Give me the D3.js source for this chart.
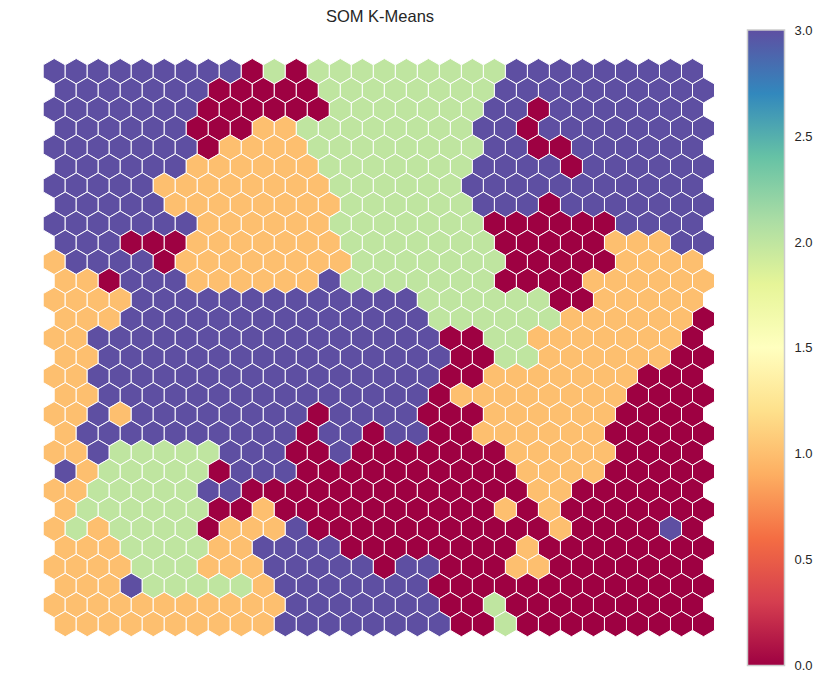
<!DOCTYPE html>
<html>
<head>
<meta charset="utf-8">
<script src="https://cdn.jsdelivr.net/npm/d3@7"></script>
<style>
  html, body { margin: 0; padding: 0; background: #fff; }
  svg { display: block; font-family: "Liberation Sans", Arial, sans-serif; }
</style>
</head>
<body>
<svg id="chart" width="824" height="683"></svg>
<script>
// SOM grid: 30 x 30 hexagonal map, each digit = K-Means cluster id of one node (row by row, top to bottom)
const clusterRows = [
  "333333333020222222222333333333",
  "333333300000222222223333333333",
  "333333300000022222223303333333",
  "333333000112222222233033333333",
  "333333301111222222223300333333",
  "333333111111222222233330333333",
  "333331111111122222233333333333",
  "333331111111122222233303333333",
  "333333311111122222220000003333",
  "333000111111122222220000011133",
  "133330111111112222222000001111",
  "110333111111322222220000111111",
  "111133333333333332222220011111",
  "111333333333333332222221111110",
  "113333333333333333002211111110",
  "113333333333333333002211111100",
  "113333333333333333001111111000",
  "113333333333333330111111110000",
  "113133333333033330001111110000",
  "133333333330330330011111100000",
  "113222223330030000000111110000",
  "312222203330000000000111100000",
  "112222233000000000000011000000",
  "122222200100000000001010000000",
  "121222201113000000000001000030",
  "111222211333300000000100000000",
  "111122211133333033000110000000",
  "111322222133333330000000000000",
  "111111111113333333002000000000",
  "111111111133333333002000000000"
];
const colorbarTicks = [0.0, 0.5, 1.0, 1.5, 2.0, 2.5, 3.0];
const spectralStops = ["#9e0142","#d53e4f","#f46d43","#fdae61","#fee08b","#ffffbf","#e6f598","#abdda4","#66c2a5","#3288bd","#5e4fa2"];
const titleText = "SOM K-Means";

const nodes = [];
clusterRows.forEach((row, r) => {
  row.split("").forEach((ch, c) => nodes.push({ row: r, col: c, value: +ch }));
});

const nRows = clusterRows.length, nCols = clusterRows[0].length;
const svg = d3.select("#chart");

const x = d3.scaleLinear().domain([0, nCols - 1]).range([54.2, 692.5]);
const colW = x(1) - x(0);
const y = d3.scaleLinear().domain([0, nRows - 1]).range([71.2, 71.2 + (nRows - 1) * colW * Math.sqrt(3) / 2]);
const radius = colW / Math.sqrt(3);

const color = d3.scaleLinear()
  .domain(d3.range(spectralStops.length).map(i => 3 * i / (spectralStops.length - 1)))
  .range(spectralStops)
  .interpolate(d3.interpolateRgb);

const hexPath = (cx, cy) => {
  const pts = d3.range(6).map(i => {
    const a = Math.PI / 3 * i + Math.PI / 6;
    return [cx + radius * Math.cos(a), cy + radius * Math.sin(a)];
  });
  return "M" + pts.map(p => p.join(",")).join("L") + "Z";
};

svg.append("g").selectAll("path")
  .data(nodes)
  .join("path")
  .attr("d", d => hexPath(x(d.col + (d.row % 2 ? 0.5 : 0)), y(d.row)))
  .attr("fill", d => color(d.value))
  .attr("stroke", "#ffffff")
  .attr("stroke-width", 1);

// title
svg.append("text")
  .attr("x", 380).attr("y", 22)
  .attr("text-anchor", "middle")
  .attr("font-size", 16.5)
  .attr("fill", "#262626")
  .text(titleText);

// colorbar
const cbX = 747.5, cbW = 37, cbTop = 30, cbBottom = 665.5;
const defs = svg.append("defs");
const grad = defs.append("linearGradient").attr("id", "cbgrad")
  .attr("x1", 0).attr("y1", 1).attr("x2", 0).attr("y2", 0);
spectralStops.forEach((c, i) => {
  grad.append("stop").attr("offset", i / (spectralStops.length - 1)).attr("stop-color", c);
});
svg.append("rect")
  .attr("x", cbX).attr("y", cbTop).attr("width", cbW).attr("height", cbBottom - cbTop)
  .attr("fill", "url(#cbgrad)")
  .attr("stroke", "#cccccc").attr("stroke-width", 1.5);

const cbScale = d3.scaleLinear().domain([0, 3]).range([cbBottom, cbTop]);
const cbAxis = svg.append("g")
  .attr("transform", `translate(${cbX + cbW},0)`)
  .call(d3.axisRight(cbScale).tickValues(colorbarTicks).tickFormat(d3.format(".1f")).tickSize(0).tickPadding(10));
cbAxis.select(".domain").remove();
cbAxis.selectAll("text")
  .attr("font-size", 13)
  .attr("font-family", "Liberation Sans, Arial, sans-serif")
  .attr("fill", "#262626");
</script>
</body>
</html>
